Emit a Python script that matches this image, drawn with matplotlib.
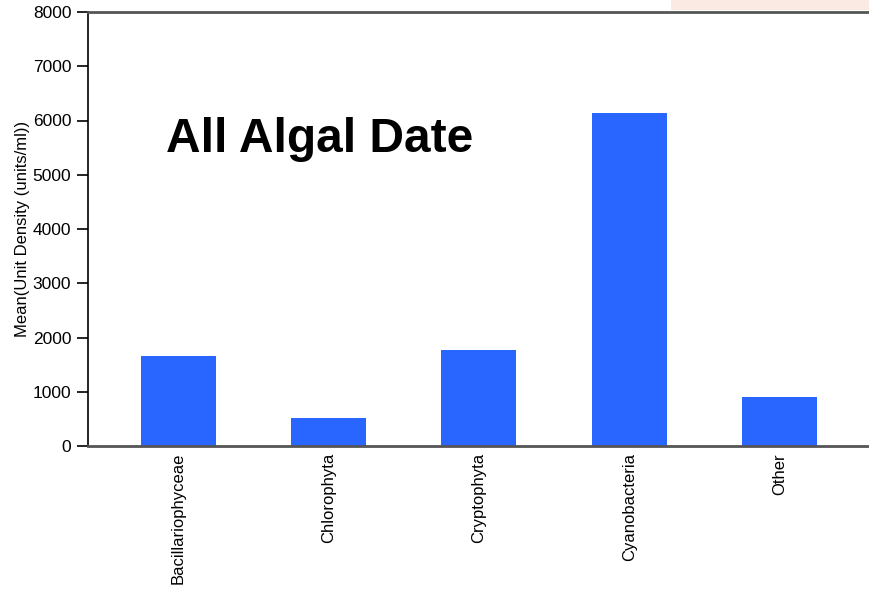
import matplotlib
matplotlib.use("Agg")
import matplotlib.pyplot as plt
from matplotlib.patches import Rectangle

plt.rcParams['font.family'] = ['Liberation Sans', 'DejaVu Sans']

# data
groups = ['Bacillariophyceae', 'Chlorophyta', 'Cryptophyta', 'Cyanobacteria', 'Other']
means = [1655, 515, 1770, 6135, 900]
yticks = [0, 1000, 2000, 3000, 4000, 5000, 6000, 7000, 8000]

fig = plt.figure(figsize=(8.7, 5.89), dpi=100)
# faint pink strip at the very top right of the original screenshot
fig.patches.append(Rectangle((671/870, 1 - 10/589), 1 - 671/870, 10/589,
                             transform=fig.transFigure, facecolor='#fbe9e3',
                             edgecolor='none', zorder=0))

ax = fig.add_axes([88/870, 143/589, 1 - 88/870 + 0.01, (446 - 12)/589])
x = list(range(len(groups)))
ax.bar(x, means, width=0.5, color='#2966ff', zorder=2)

ax.set_xlim(-0.6, 4.66)
ax.set_ylim(0, 8000)
ax.set_yticks(yticks)
ax.set_yticklabels([str(v) for v in yticks], fontsize=12.5)
ax.set_xticks(x)
ax.set_xticklabels(groups, rotation=90, fontsize=12)
ax.tick_params(axis='x', length=0, pad=5)
ax.tick_params(axis='y', length=8, width=1.2, direction='out', pad=4)

ax.set_ylabel('Mean(Unit Density (units/ml))', fontsize=12, labelpad=2)

ax.spines['left'].set_color('black')
ax.spines['left'].set_linewidth(1.2)
ax.spines['bottom'].set_color('#555555')
ax.spines['bottom'].set_linewidth(2)
ax.spines['top'].set_color('#555555')
ax.spines['top'].set_linewidth(2)
ax.spines['right'].set_visible(False)

ax.text((166 - 88) / (870 - 88 + 8.7), (446 - 152) / 434, 'All Algal Date',
        transform=ax.transAxes, fontsize=34.5, fontweight='bold',
        ha='left', va='baseline')

fig.savefig('out.png', dpi=100)
